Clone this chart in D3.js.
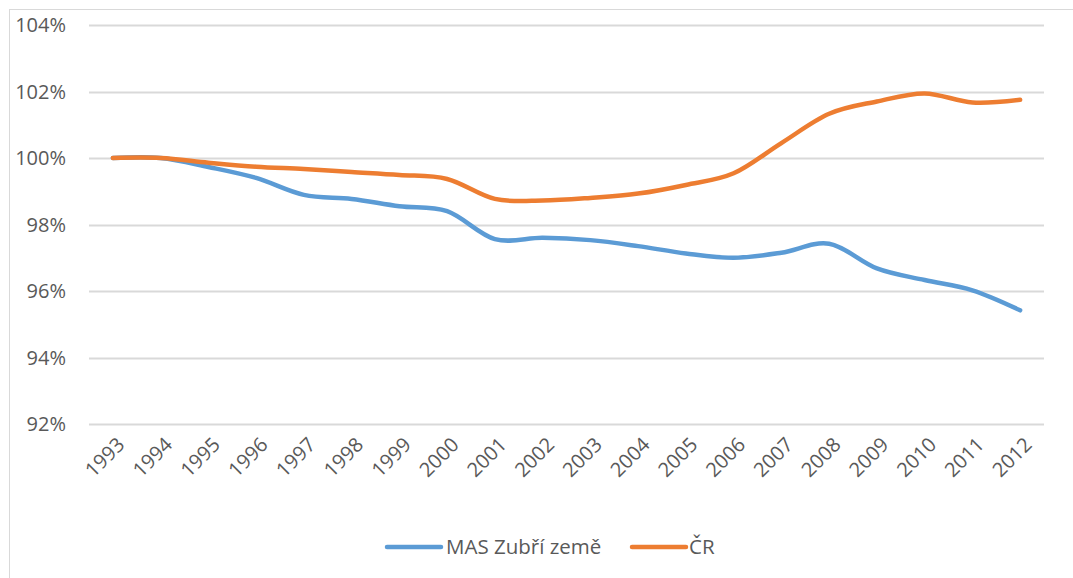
<!DOCTYPE html>
<html lang="cs">
<head>
<meta charset="UTF-8">
<script src="https://cdn.jsdelivr.net/npm/d3@7"></script>
<style>
    body { margin: 0; background: #fff; }
    text { font-family: "Open Sans", sans-serif; fill: #595959; }
</style>
</head>
<body>
<div id="chart"></div>
<script>
    const years = ["1993", "1994", "1995", "1996", "1997", "1998", "1999", "2000", "2001", "2002",
        "2003", "2004", "2005", "2006", "2007", "2008", "2009", "2010", "2011", "2012"];
    const masValues = [100, 100, 99.73, 99.4, 98.89, 98.77, 98.55, 98.4, 97.56, 97.6,
        97.53, 97.35, 97.13, 97.0, 97.15, 97.42, 96.68, 96.33, 96.02, 95.42];
    const crValues = [100, 100, 99.86, 99.74, 99.67, 99.58, 99.49, 99.37, 98.77, 98.72,
        98.8, 98.93, 99.19, 99.54, 100.45, 101.33, 101.7, 101.94, 101.67, 101.75];
    const yTicks = [92, 94, 96, 98, 100, 102, 104];
    const seriesNames = ["MAS Zubří země", "ČR"];
    const seriesColors = ["#5B9BD5", "#ED7D31"];

    const width = 1073, height = 578;
    const margin = { left: 89, right: 29, top: 25, bottom: 154 };

    const svg = d3.select("#chart").append("svg")
        .attr("width", width)
        .attr("height", height);

    // chart area border (left and top visible)
    svg.append("rect")
        .attr("x", 9.5).attr("y", 9.5)
        .attr("width", width + 20).attr("height", height + 20)
        .attr("fill", "none")
        .attr("stroke", "#D9D9D9")
        .attr("stroke-width", 1);

    const x = d3.scaleBand()
        .domain(years)
        .range([margin.left, width - margin.right]);

    const y = d3.scaleLinear()
        .domain([92, 104])
        .range([height - margin.bottom, margin.top]);

    // gridlines
    svg.append("g")
        .selectAll("line")
        .data(yTicks)
        .enter()
        .append("line")
        .attr("x1", margin.left)
        .attr("x2", width - margin.right)
        .attr("y1", d => Math.round(y(d)) + 0.5)
        .attr("y2", d => Math.round(y(d)) + 0.5)
        .attr("stroke", "#D9D9D9")
        .attr("stroke-width", 2);

    // y labels
    svg.append("g")
        .selectAll("text")
        .data(yTicks)
        .enter()
        .append("text")
        .attr("x", 66)
        .attr("y", d => y(d))
        .attr("dy", "0.35em")
        .attr("text-anchor", "end")
        .style("font-size", "20px")
        .text(d => d + "%");

    // x labels, rotated
    svg.append("g")
        .selectAll("text")
        .data(years)
        .enter()
        .append("text")
        .attr("transform", d => `translate(${x(d) + x.bandwidth() / 2 + 8},${y(92) + 17}) rotate(-45)`)
        .attr("text-anchor", "end")
        .attr("dy", "0.35em")
        .style("font-size", "20px")
        .text(d => d);

    const line = d3.line()
        .x((d, i) => x(years[i]) + x.bandwidth() / 2)
        .y(d => y(d))
        .curve(d3.curveCatmullRom.alpha(0));

    [masValues, crValues].forEach((vals, i) => {
        svg.append("path")
            .datum(vals)
            .attr("d", line)
            .attr("fill", "none")
            .attr("stroke", seriesColors[i])
            .attr("stroke-width", 4.5)
            .attr("stroke-linecap", "round")
            .attr("stroke-linejoin", "round");
    });

    // legend
    const legendPos = [{ lx: 387, tx: 446 }, { lx: 632, tx: 689 }];
    const legendY = 547;
    const legend = svg.append("g");
    seriesNames.forEach((name, i) => {
        legend.append("line")
            .attr("x1", legendPos[i].lx)
            .attr("x2", legendPos[i].lx + 54)
            .attr("y1", legendY)
            .attr("y2", legendY)
            .attr("stroke", seriesColors[i])
            .attr("stroke-width", 4.5)
            .attr("stroke-linecap", "round");
        legend.append("text")
            .attr("x", legendPos[i].tx)
            .attr("y", legendY)
            .attr("dy", "0.35em")
            .style("font-size", "20.5px")
            .text(name);
    });
</script>
</body>
</html>
